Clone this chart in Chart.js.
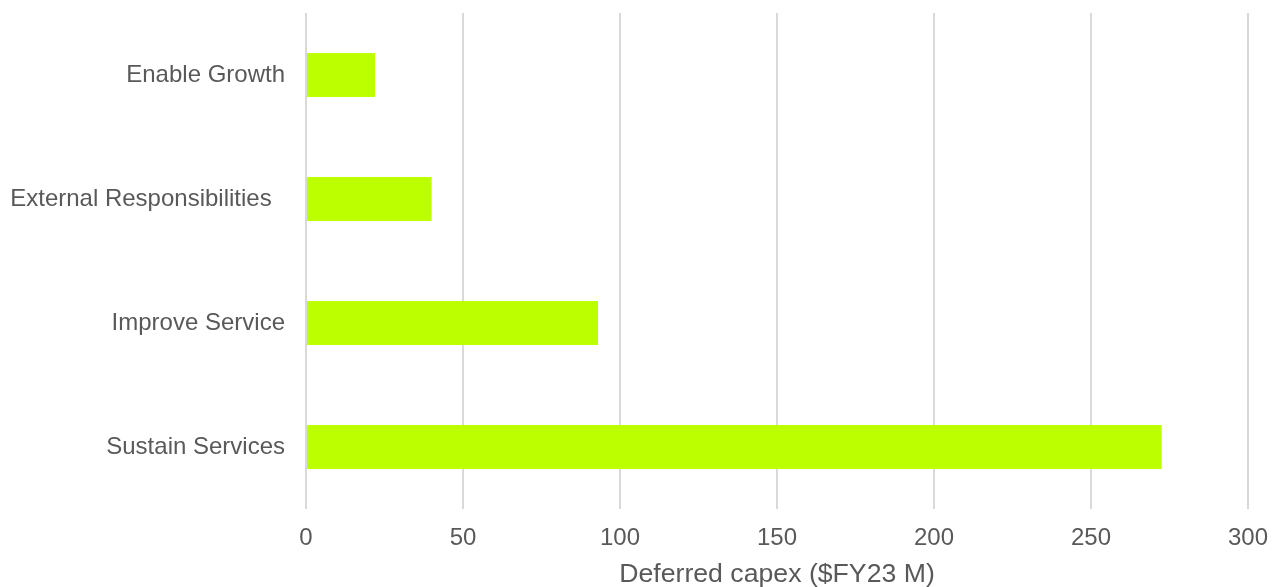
<!DOCTYPE html>
<html>
<head>
<meta charset="utf-8">
<script src="https://cdn.jsdelivr.net/npm/chart.js@4/dist/chart.umd.min.js"></script>
<style>
  html, body { margin: 0; padding: 0; background: #ffffff; }
  #wrap { width: 1272px; height: 587px; position: relative; }
</style>
</head>
<body>
<div id="wrap"><canvas id="chart" width="1272" height="587"></canvas></div>
<script>
// Deferred capital expenditure by investment driver ($FY23 M)
const categories = ["Enable Growth", "External Responsibilities  ", "Improve Service", "Sustain Services"];
const deferredCapex = [22, 40, 93, 272.5];
const xTicks = [0, 50, 100, 150, 200, 250, 300];
const axisTitle = "Deferred capex ($FY23 M)";

const textColor = "#595959";
const gridColor = "#d9d9d9";
const barColor = "#bbff00";
const fontFamily = "'Liberation Sans', Arial, sans-serif";

new Chart(document.getElementById("chart"), {
  type: "bar",
  data: {
    labels: categories,
    datasets: [{
      data: deferredCapex,
      backgroundColor: barColor,
      borderWidth: 0,
      categoryPercentage: 1,
      barPercentage: 0.355
    }]
  },
  options: {
    indexAxis: "y",
    responsive: false,
    animation: false,
    layout: { padding: { top: 13, right: 24, bottom: 0, left: 0 } },
    plugins: {
      legend: { display: false },
      tooltip: { enabled: false }
    },
    scales: {
      x: {
        min: xTicks[0],
        max: xTicks[xTicks.length - 1],
        afterBuildTicks: (scale) => { scale.ticks = xTicks.map(v => ({ value: v })); },
        afterFit: (scale) => {
          scale.height = 78;
          scale.paddingLeft = 0;
          scale.paddingRight = 0;
        },
        border: { display: false },
        grid: { color: gridColor, lineWidth: 2, drawTicks: false },
        ticks: {
          color: textColor,
          padding: 15,
          maxRotation: 0,
          font: { family: fontFamily, size: 24 }
        },
        title: {
          display: true,
          text: axisTitle,
          color: textColor,
          padding: { top: 0, bottom: 0 },
          font: { family: fontFamily, size: 26.67, lineHeight: 0.92 }
        }
      },
      y: {
        afterFit: (scale) => {
          scale.width = 306;
          scale.paddingTop = 0;
          scale.paddingBottom = 0;
        },
        border: { display: false },
        grid: { display: false, drawTicks: false },
        ticks: {
          color: textColor,
          padding: 21,
          font: { family: fontFamily, size: 24 }
        }
      }
    }
  }
});
</script>
</body>
</html>
